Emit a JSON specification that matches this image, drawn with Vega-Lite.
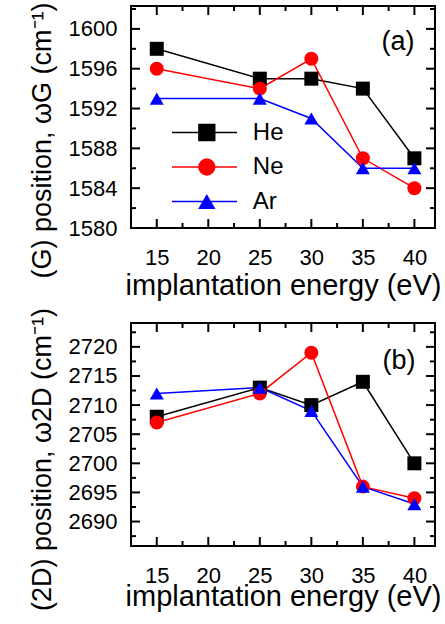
{
  "$schema": "https://vega.github.io/schema/vega-lite/v6.json",
  "padding": {"left": 27, "top": 0, "right": 0, "bottom": 0},
  "background": "white",
  "config": {
    "view": {"stroke": "black", "strokeWidth": 2},
    "font": "Liberation Sans",
    "axis": {"grid": false, "domain": false, "ticks": false, "labelColor": "black", "titleColor": "black", "labelFont": "Liberation Sans", "titleFont": "Liberation Sans", "titleFontWeight": "normal", "labelFontSize": 22, "titleFontSize": 27, "format": "d", "labelOverlap": false},
    "legend": {"labelFont": "Liberation Sans", "labelColor": "black"}
  },
  "datasets": {
    "g": [
      {"gas": "He", "energy": 15, "pos": 1598}, {"gas": "He", "energy": 25, "pos": 1595}, {"gas": "He", "energy": 30, "pos": 1595}, {"gas": "He", "energy": 35, "pos": 1594}, {"gas": "He", "energy": 40, "pos": 1587},
      {"gas": "Ne", "energy": 15, "pos": 1596}, {"gas": "Ne", "energy": 25, "pos": 1594}, {"gas": "Ne", "energy": 30, "pos": 1597}, {"gas": "Ne", "energy": 35, "pos": 1587}, {"gas": "Ne", "energy": 40, "pos": 1584},
      {"gas": "Ar", "energy": 15, "pos": 1593}, {"gas": "Ar", "energy": 25, "pos": 1593}, {"gas": "Ar", "energy": 30, "pos": 1591}, {"gas": "Ar", "energy": 35, "pos": 1586}, {"gas": "Ar", "energy": 40, "pos": 1586}
    ],
    "d": [
      {"gas": "He", "energy": 15, "pos": 2708}, {"gas": "He", "energy": 25, "pos": 2713}, {"gas": "He", "energy": 30, "pos": 2710}, {"gas": "He", "energy": 35, "pos": 2714}, {"gas": "He", "energy": 40, "pos": 2700},
      {"gas": "Ne", "energy": 15, "pos": 2707}, {"gas": "Ne", "energy": 25, "pos": 2712}, {"gas": "Ne", "energy": 30, "pos": 2719}, {"gas": "Ne", "energy": 35, "pos": 2696}, {"gas": "Ne", "energy": 40, "pos": 2694},
      {"gas": "Ar", "energy": 15, "pos": 2712}, {"gas": "Ar", "energy": 25, "pos": 2713}, {"gas": "Ar", "energy": 30, "pos": 2709}, {"gas": "Ar", "energy": 35, "pos": 2696}, {"gas": "Ar", "energy": 40, "pos": 2693}
    ],
    "xmaj": [{"v": 15}, {"v": 20}, {"v": 25}, {"v": 30}, {"v": 35}, {"v": 40}],
    "xmin": [{"v": 17.5}, {"v": 22.5}, {"v": 27.5}, {"v": 32.5}, {"v": 37.5}],
    "gmaj": [{"v": 1580}, {"v": 1584}, {"v": 1588}, {"v": 1592}, {"v": 1596}, {"v": 1600}],
    "gmin": [{"v": 1582}, {"v": 1586}, {"v": 1590}, {"v": 1594}, {"v": 1598}, {"v": 1602}],
    "dmaj": [{"v": 2690}, {"v": 2695}, {"v": 2700}, {"v": 2705}, {"v": 2710}, {"v": 2715}, {"v": 2720}],
    "dmin": [{"v": 2687.5}, {"v": 2692.5}, {"v": 2697.5}, {"v": 2702.5}, {"v": 2707.5}, {"v": 2712.5}, {"v": 2717.5}, {"v": 2722.5}]
  },
  "spacing": 95,
  "bounds": "flush",
  "resolve": {
    "scale": {"x": "independent", "y": "independent", "stroke": "independent", "fill": "independent", "shape": "independent", "color": "independent"},
    "legend": {"stroke": "independent", "fill": "independent", "shape": "independent", "color": "independent"}
  },
  "vconcat": [
    {
      "width": 304,
      "height": 222,
      "resolve": {"axis": {"x": "independent", "y": "independent"}},
      "layer": [
        {
          "data": {"name": "xmaj"},
          "mark": {"type": "point", "shape": "M0,0L0,-1", "size": 324, "filled": false, "color": "black", "strokeWidth": 2, "opacity": 1},
          "encoding": {
            "x": {"field": "v", "type": "quantitative", "scale": {"domain": [12.5, 42], "nice": false, "zero": false}, "axis": null},
            "y": {"datum": 1580, "type": "quantitative", "scale": {"domain": [1580, 1602.3], "nice": false, "zero": false}, "axis": null}
          }
        },
        {
          "data": {"name": "xmaj"},
          "mark": {"type": "point", "shape": "M0,0L0,1", "size": 324, "filled": false, "color": "black", "strokeWidth": 2, "opacity": 1},
          "encoding": {
            "x": {"field": "v", "type": "quantitative", "axis": null},
            "y": {"datum": 1602.3, "type": "quantitative", "axis": null}
          }
        },
        {
          "data": {"name": "xmin"},
          "mark": {"type": "point", "shape": "M0,0L0,-1", "size": 100, "filled": false, "color": "black", "strokeWidth": 2, "opacity": 1},
          "encoding": {
            "x": {"field": "v", "type": "quantitative", "axis": null},
            "y": {"datum": 1580, "type": "quantitative", "axis": null}
          }
        },
        {
          "data": {"name": "xmin"},
          "mark": {"type": "point", "shape": "M0,0L0,1", "size": 100, "filled": false, "color": "black", "strokeWidth": 2, "opacity": 1},
          "encoding": {
            "x": {"field": "v", "type": "quantitative", "axis": null},
            "y": {"datum": 1602.3, "type": "quantitative", "axis": null}
          }
        },
        {
          "data": {"name": "gmaj"},
          "mark": {"type": "point", "shape": "M0,0L1,0", "size": 324, "filled": false, "color": "black", "strokeWidth": 2, "opacity": 1},
          "encoding": {
            "y": {"field": "v", "type": "quantitative", "axis": null},
            "x": {"datum": 12.5, "type": "quantitative", "axis": null}
          }
        },
        {
          "data": {"name": "gmaj"},
          "mark": {"type": "point", "shape": "M0,0L-1,0", "size": 324, "filled": false, "color": "black", "strokeWidth": 2, "opacity": 1},
          "encoding": {
            "y": {"field": "v", "type": "quantitative", "axis": null},
            "x": {"datum": 42, "type": "quantitative", "axis": null}
          }
        },
        {
          "data": {"name": "gmin"},
          "mark": {"type": "point", "shape": "M0,0L1,0", "size": 100, "filled": false, "color": "black", "strokeWidth": 2, "opacity": 1},
          "encoding": {
            "y": {"field": "v", "type": "quantitative", "axis": null},
            "x": {"datum": 12.5, "type": "quantitative", "axis": null}
          }
        },
        {
          "data": {"name": "gmin"},
          "mark": {"type": "point", "shape": "M0,0L-1,0", "size": 100, "filled": false, "color": "black", "strokeWidth": 2, "opacity": 1},
          "encoding": {
            "y": {"field": "v", "type": "quantitative", "axis": null},
            "x": {"datum": 42, "type": "quantitative", "axis": null}
          }
        },
        {
          "data": {"name": "g"},
          "mark": {"type": "line", "strokeWidth": 1.5},
          "encoding": {
            "x": {"field": "energy", "type": "quantitative", "axis": {"orient": "bottom", "values": [15, 20, 25, 30, 35, 40], "labelPadding": 19, "title": "implantation energy (eV)", "titleFontSize": 29, "titlePadding": 3}},
            "y": {"field": "pos", "type": "quantitative", "axis": {"orient": "left", "values": [1580, 1584, 1588, 1592, 1596, 1600], "labelPadding": 14, "title": "(G) position, ωG (cm⁻¹)", "titlePadding": 12, "titleY": 134}},
            "stroke": {"field": "gas", "type": "nominal", "sort": ["He", "Ne", "Ar"], "scale": {"range": ["black", "red", "blue"]}, "legend": {"orient": "none", "legendX": 40, "legendY": 114.5, "title": null, "symbolType": "stroke", "symbolSize": 4225, "symbolStrokeWidth": 1.5, "clipHeight": 24, "labelFontSize": 24, "labelOpacity": 0, "rowPadding": 10.5, "padding": 0, "zindex": 0}}
          }
        },
        {
          "data": {"name": "g"},
          "mark": {"type": "point", "filled": true, "opacity": 1, "size": 196},
          "encoding": {
            "x": {"field": "energy", "type": "quantitative", "axis": null},
            "y": {"field": "pos", "type": "quantitative", "axis": null},
            "fill": {"field": "gas", "type": "nominal", "scale": {"domain": ["He", "Ne", "Ar"], "range": ["black", "red", "blue"]}, "legend": {"orient": "none", "legendX": 63.8, "legendY": 114.5, "title": null, "symbolSize": 300, "symbolStrokeWidth": 0, "clipHeight": 24, "labelFontSize": 24, "labelOffset": 34, "rowPadding": 10.5, "padding": 0, "zindex": 1}},
            "shape": {"field": "gas", "type": "nominal", "scale": {"domain": ["He", "Ne", "Ar"], "range": ["square", "circle", "triangle-up"]}, "legend": {"orient": "none", "legendX": 63.8, "legendY": 114.5, "title": null, "symbolSize": 300, "symbolStrokeWidth": 0, "clipHeight": 24, "labelFontSize": 24, "labelOffset": 34, "rowPadding": 10.5, "padding": 0, "zindex": 1}}
          }
        },
        {
          "data": {"values": [{"label": "(a)"}]},
          "mark": {"type": "text", "fontSize": 27, "align": "center", "baseline": "middle", "color": "black", "font": "Liberation Sans"},
          "encoding": {
            "text": {"field": "label"},
            "x": {"datum": 38.4, "type": "quantitative", "axis": null},
            "y": {"datum": 1598.7, "type": "quantitative", "axis": null}
          }
        }
      ]
    },
    {
      "width": 304,
      "height": 223,
      "resolve": {"axis": {"x": "independent", "y": "independent"}},
      "layer": [
        {
          "data": {"name": "xmaj"},
          "mark": {"type": "point", "shape": "M0,0L0,-1", "size": 324, "filled": false, "color": "black", "strokeWidth": 2, "opacity": 1},
          "encoding": {
            "x": {"field": "v", "type": "quantitative", "scale": {"domain": [12.5, 42], "nice": false, "zero": false}, "axis": null},
            "y": {"datum": 2685.8, "type": "quantitative", "scale": {"domain": [2685.8, 2724.1], "nice": false, "zero": false}, "axis": null}
          }
        },
        {
          "data": {"name": "xmaj"},
          "mark": {"type": "point", "shape": "M0,0L0,1", "size": 324, "filled": false, "color": "black", "strokeWidth": 2, "opacity": 1},
          "encoding": {
            "x": {"field": "v", "type": "quantitative", "axis": null},
            "y": {"datum": 2724.1, "type": "quantitative", "axis": null}
          }
        },
        {
          "data": {"name": "xmin"},
          "mark": {"type": "point", "shape": "M0,0L0,-1", "size": 100, "filled": false, "color": "black", "strokeWidth": 2, "opacity": 1},
          "encoding": {
            "x": {"field": "v", "type": "quantitative", "axis": null},
            "y": {"datum": 2685.8, "type": "quantitative", "axis": null}
          }
        },
        {
          "data": {"name": "xmin"},
          "mark": {"type": "point", "shape": "M0,0L0,1", "size": 100, "filled": false, "color": "black", "strokeWidth": 2, "opacity": 1},
          "encoding": {
            "x": {"field": "v", "type": "quantitative", "axis": null},
            "y": {"datum": 2724.1, "type": "quantitative", "axis": null}
          }
        },
        {
          "data": {"name": "dmaj"},
          "mark": {"type": "point", "shape": "M0,0L1,0", "size": 324, "filled": false, "color": "black", "strokeWidth": 2, "opacity": 1},
          "encoding": {
            "y": {"field": "v", "type": "quantitative", "axis": null},
            "x": {"datum": 12.5, "type": "quantitative", "axis": null}
          }
        },
        {
          "data": {"name": "dmaj"},
          "mark": {"type": "point", "shape": "M0,0L-1,0", "size": 324, "filled": false, "color": "black", "strokeWidth": 2, "opacity": 1},
          "encoding": {
            "y": {"field": "v", "type": "quantitative", "axis": null},
            "x": {"datum": 42, "type": "quantitative", "axis": null}
          }
        },
        {
          "data": {"name": "dmin"},
          "mark": {"type": "point", "shape": "M0,0L1,0", "size": 100, "filled": false, "color": "black", "strokeWidth": 2, "opacity": 1},
          "encoding": {
            "y": {"field": "v", "type": "quantitative", "axis": null},
            "x": {"datum": 12.5, "type": "quantitative", "axis": null}
          }
        },
        {
          "data": {"name": "dmin"},
          "mark": {"type": "point", "shape": "M0,0L-1,0", "size": 100, "filled": false, "color": "black", "strokeWidth": 2, "opacity": 1},
          "encoding": {
            "y": {"field": "v", "type": "quantitative", "axis": null},
            "x": {"datum": 42, "type": "quantitative", "axis": null}
          }
        },
        {
          "data": {"name": "d"},
          "mark": {"type": "line", "strokeWidth": 1.5},
          "encoding": {
            "x": {"field": "energy", "type": "quantitative", "axis": {"orient": "bottom", "values": [15, 20, 25, 30, 35, 40], "labelPadding": 19, "title": "implantation energy (eV)", "titleFontSize": 29, "titlePadding": -4}},
            "y": {"field": "pos", "type": "quantitative", "axis": {"orient": "left", "values": [2690, 2695, 2700, 2705, 2710, 2715, 2720], "labelPadding": 14, "title": "(2D) position, ω2D (cm⁻¹)", "titlePadding": 12, "titleY": 136}},
            "stroke": {"field": "gas", "type": "nominal", "sort": ["He", "Ne", "Ar"], "scale": {"range": ["black", "red", "blue"]}, "legend": null}
          }
        },
        {
          "data": {"name": "d"},
          "mark": {"type": "point", "filled": true, "opacity": 1, "size": 196},
          "encoding": {
            "x": {"field": "energy", "type": "quantitative", "axis": null},
            "y": {"field": "pos", "type": "quantitative", "axis": null},
            "fill": {"field": "gas", "type": "nominal", "scale": {"domain": ["He", "Ne", "Ar"], "range": ["black", "red", "blue"]}, "legend": null},
            "shape": {"field": "gas", "type": "nominal", "scale": {"domain": ["He", "Ne", "Ar"], "range": ["square", "circle", "triangle-up"]}, "legend": null}
          }
        },
        {
          "data": {"values": [{"label": "(b)"}]},
          "mark": {"type": "text", "fontSize": 27, "align": "center", "baseline": "middle", "color": "black", "font": "Liberation Sans"},
          "encoding": {
            "text": {"field": "label"},
            "x": {"datum": 38.5, "type": "quantitative", "axis": null},
            "y": {"datum": 2717.6, "type": "quantitative", "axis": null}
          }
        }
      ]
    }
  ]
}
